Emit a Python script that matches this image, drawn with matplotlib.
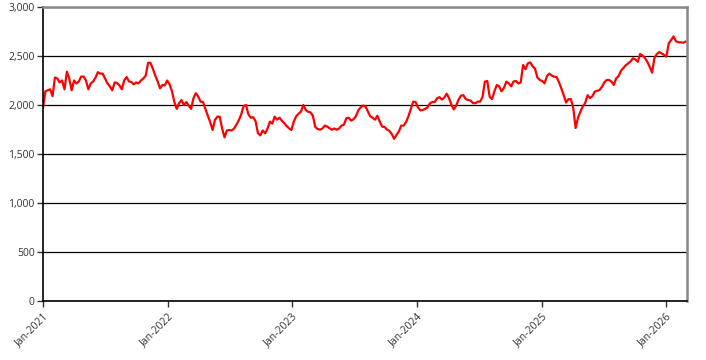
import numpy as np
import pandas as pd
import matplotlib
matplotlib.use("Agg")
import matplotlib.pyplot as plt
import matplotlib.dates as mdates
from matplotlib.ticker import FuncFormatter

# Weekly readings, starting 1 Jan 2021
start_date = "2021-01-01"
values_2021 = [1970, 2140, 2150, 2160, 2090, 2280, 2270, 2230, 2250, 2160,
               2340, 2270, 2150, 2250, 2220, 2240, 2290, 2290, 2250, 2160,
               2220, 2240, 2280, 2335, 2320, 2320, 2270, 2220, 2190, 2150,
               2230, 2225, 2200, 2160, 2250, 2285, 2240, 2235, 2210, 2230,
               2220, 2250, 2270, 2300, 2430, 2430]
values_2022 = [2370, 2300, 2240, 2170, 2204, 2200, 2250, 2210, 2140, 2030,
               1960, 2020, 2050, 2000, 2030, 1995, 1960, 2070, 2120, 2085,
               2034, 2030, 1960, 1890, 1825, 1745, 1847, 1881, 1880, 1760,
               1670, 1740, 1745, 1740, 1760, 1800, 1845, 1905, 1990, 2000,
               1905, 1870, 1875, 1835, 1711, 1690]
values_2023 = [1740, 1711, 1760, 1830, 1810, 1881, 1850, 1870, 1840, 1815,
               1785, 1762, 1745, 1830, 1885, 1910, 1932, 2000, 1950, 1930,
               1925, 1890, 1775, 1755, 1748, 1760, 1790, 1780, 1762, 1748,
               1760, 1748, 1760, 1790, 1800, 1865, 1870, 1840, 1855, 1885,
               1945, 1975, 1995, 1985, 1935, 1885]
values_2024 = [1870, 1850, 1890, 1830, 1780, 1775, 1750, 1735, 1705, 1655,
               1694, 1730, 1790, 1790, 1825, 1885, 1960, 2034, 2030, 1975,
               1945, 1950, 1960, 1975, 2017, 2030, 2030, 2068, 2080, 2055,
               2075, 2115, 2070, 2000, 1955, 1995, 2055, 2095, 2100, 2060,
               2051, 2045, 2020, 2017, 2034, 2034]
values_2025 = [2080, 2238, 2245, 2085, 2060, 2140, 2204, 2190, 2140, 2175,
               2238, 2221, 2190, 2240, 2245, 2220, 2230, 2408, 2365, 2425,
               2435, 2395, 2370, 2280, 2255, 2245, 2221, 2295, 2320, 2300,
               2289, 2285, 2235, 2170, 2100, 2025, 2060, 2060, 1970, 1765,
               1870, 1932, 1985, 2020, 2100, 2070]
values_2026 = [2090, 2136, 2145, 2153, 2185, 2230, 2255, 2255, 2238, 2205,
               2272, 2295, 2350, 2378, 2405, 2425, 2445, 2476, 2465, 2440,
               2520, 2505, 2480, 2442, 2390, 2330, 2480, 2520, 2540, 2527,
               2512, 2493, 2630, 2663, 2700, 2650, 2640, 2640, 2635, 2646]

values = values_2021 + values_2022 + values_2023 + values_2024 + values_2025 + values_2026
dates = pd.date_range(start_date, periods=len(values), freq="7D")

year_ticks = pd.to_datetime(["2021-01-01", "2022-01-01", "2023-01-01",
                             "2024-01-01", "2025-01-01", "2026-01-01"])
y_ticks = [0, 500, 1000, 1500, 2000, 2500, 3000]

plt.rcParams["font.family"] = ["Open Sans", "DejaVu Sans"]

fig = plt.figure(figsize=(7.06, 3.60), dpi=100)
ax = fig.add_axes([0.0609, 0.1639, 0.9115, 0.8167])

ax.plot(dates, values, color="#ff0000", linewidth=1.6, solid_joinstyle="round")

ax.set_ylim(0, 3000)
ax.set_xlim(pd.Timestamp("2021-01-01"), pd.Timestamp("2026-03-02"))
ax.set_yticks(y_ticks)
ax.yaxis.set_major_formatter(FuncFormatter(lambda v, p: f"{int(v):,}"))
ax.set_xticks(year_ticks)
ax.xaxis.set_major_formatter(mdates.DateFormatter("%b-%Y"))

for lab in ax.get_xticklabels():
    lab.set_rotation(45)
    lab.set_ha("right")
    lab.set_rotation_mode("anchor")

ax.tick_params(axis="both", labelsize=7.5, colors="#333333", length=4, width=1)
ax.tick_params(axis="x", pad=3)
ax.tick_params(axis="y", pad=2)

ax.grid(axis="y", color="black", linewidth=0.9)
ax.set_axisbelow(True)

for side in ["left", "bottom"]:
    ax.spines[side].set_color("black")
    ax.spines[side].set_linewidth(1.2)
for side in ["top", "right"]:
    ax.spines[side].set_color("#888888")
    ax.spines[side].set_linewidth(1.8)

fig.savefig("out.png", dpi=100)
